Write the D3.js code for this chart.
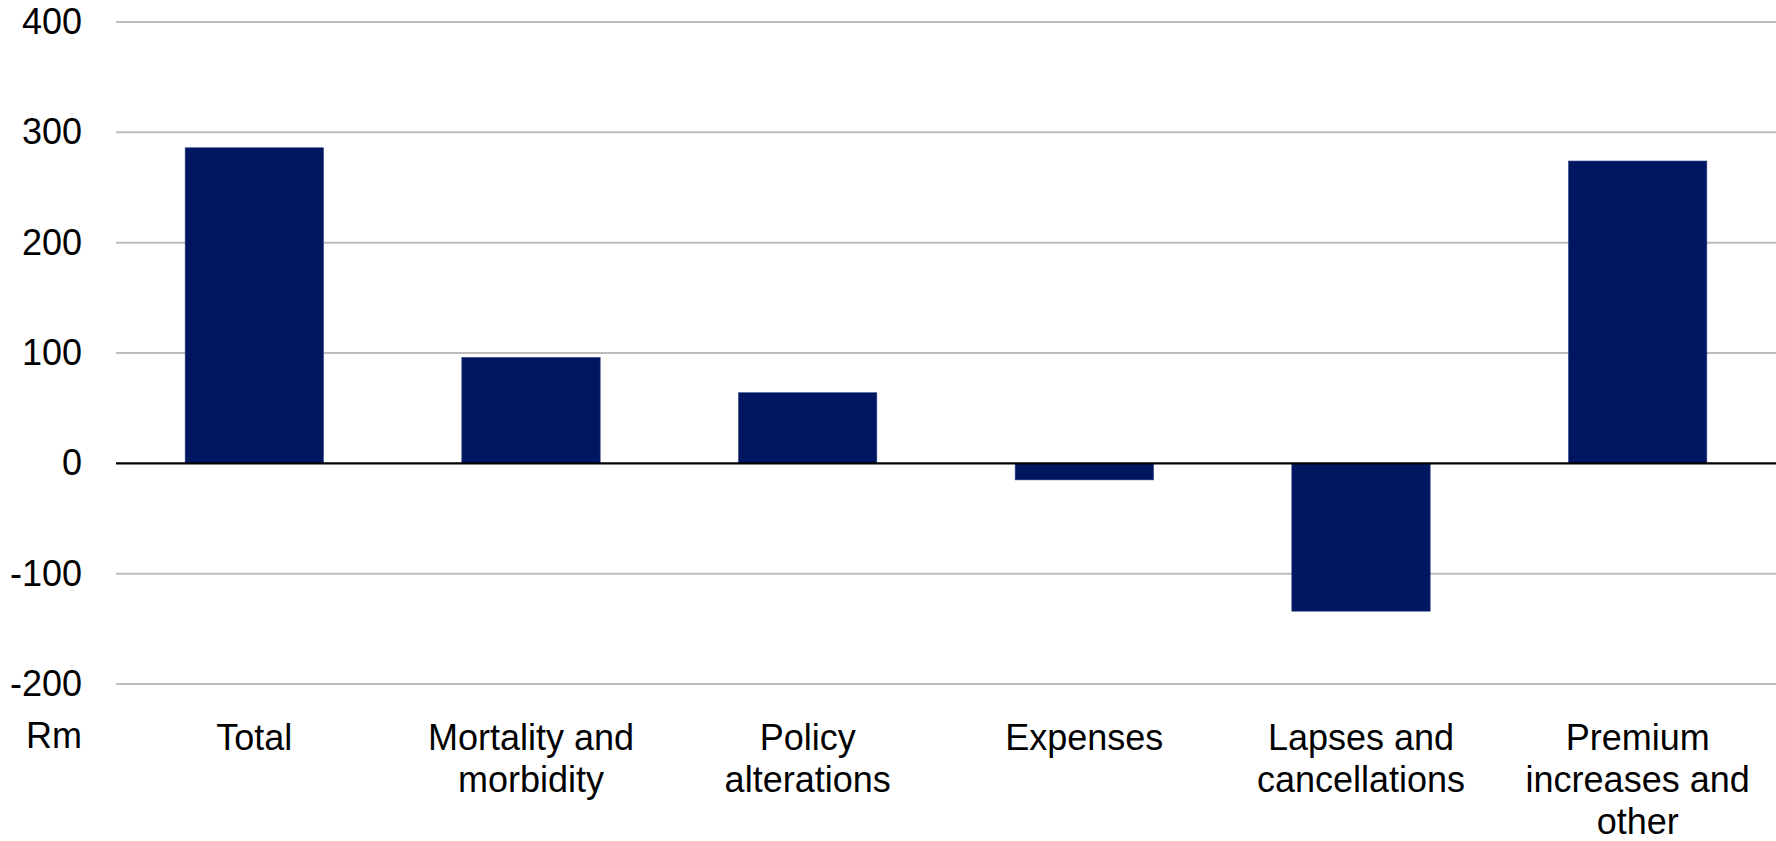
<!DOCTYPE html>
<html>
<head>
<meta charset="utf-8">
<script src="https://cdn.jsdelivr.net/npm/d3@7"></script>
<style>
  html, body { margin: 0; padding: 0; background: #fff; }
  svg { display: block; }
  text { font-family: "Liberation Sans", Arial, sans-serif; fill: #000; }
</style>
</head>
<body>
<svg id="chart" width="1776" height="841"></svg>
<script>
// Embedded value movement by source, Rm
const categories = [
  "Total",
  "Mortality and morbidity",
  "Policy alterations",
  "Expenses",
  "Lapses and cancellations",
  "Premium increases and other"
];
const values = [286, 96, 64, -15, -134, 274];
const yTicks = [-200, -100, 0, 100, 200, 300, 400];
const unitLabel = "Rm";

const width = 1776, height = 841;
const margin = { left: 116, right: 0, top: 22, bottom: 157 };

const svg = d3.select("#chart");

const x = d3.scaleBand()
  .domain(categories)
  .range([margin.left, width - margin.right])
  .paddingInner(0.5)
  .paddingOuter(0.25);

const y = d3.scaleLinear()
  .domain([-200, 400])
  .range([height - margin.bottom, margin.top]);

// Horizontal gridlines
svg.append("g")
  .selectAll("line")
  .data(yTicks.filter(d => d !== 0))
  .join("line")
  .attr("x1", margin.left)
  .attr("x2", width - margin.right)
  .attr("y1", d => y(d))
  .attr("y2", d => y(d))
  .attr("stroke", "#bdbdbd")
  .attr("stroke-width", 2);

// Y axis tick labels (no axis line), plain hyphen for negatives
const yAxis = d3.axisLeft(y)
  .tickValues(yTicks)
  .tickFormat(d => String(d))
  .tickSize(0)
  .tickPadding(0);
const yg = svg.append("g")
  .attr("transform", `translate(${margin.left - 34},0)`)
  .call(yAxis);
yg.select(".domain").remove();
yg.selectAll("text")
  .attr("font-size", 36)
  .attr("font-family", "'Liberation Sans', Arial, sans-serif")
  .attr("fill", "#000");

// Bars
svg.append("g")
  .selectAll("rect")
  .data(categories.map((c, i) => ({ c, v: values[i] })))
  .join("rect")
  .attr("x", d => x(d.c))
  .attr("width", x.bandwidth())
  .attr("y", d => y(Math.max(0, d.v)))
  .attr("height", d => Math.abs(y(d.v) - y(0)))
  .attr("fill", "#001660")
  .attr("stroke", "#2a3f85")
  .attr("stroke-width", 0.6);

// Zero baseline
svg.append("line")
  .attr("x1", margin.left)
  .attr("x2", width - margin.right)
  .attr("y1", y(0))
  .attr("y2", y(0))
  .attr("stroke", "#000")
  .attr("stroke-width", 2.2);

// Category labels, wrapped to fit each band
const firstBaseline = 750;
const lineHeight = 42;
const fontSize = 36;
const maxLabelWidth = x.step() * 0.92;

const labelG = svg.append("g");
categories.forEach(cat => {
  const t = labelG.append("text")
    .attr("x", x(cat) + x.bandwidth() / 2)
    .attr("y", firstBaseline)
    .attr("text-anchor", "middle")
    .attr("font-size", fontSize);
  const words = cat.split(" ");
  let line = [];
  let lineNo = 0;
  let tspan = t.append("tspan").attr("x", x(cat) + x.bandwidth() / 2).attr("y", firstBaseline);
  words.forEach(w => {
    line.push(w);
    tspan.text(line.join(" "));
    if (tspan.node().getComputedTextLength() > maxLabelWidth && line.length > 1) {
      line.pop();
      tspan.text(line.join(" "));
      line = [w];
      lineNo += 1;
      tspan = t.append("tspan")
        .attr("x", x(cat) + x.bandwidth() / 2)
        .attr("y", firstBaseline + lineNo * lineHeight)
        .text(w);
    }
  });
});

// Unit label
svg.append("text")
  .attr("x", margin.left - 34)
  .attr("y", 748)
  .attr("text-anchor", "end")
  .attr("font-size", fontSize)
  .text(unitLabel);
</script>
</body>
</html>
